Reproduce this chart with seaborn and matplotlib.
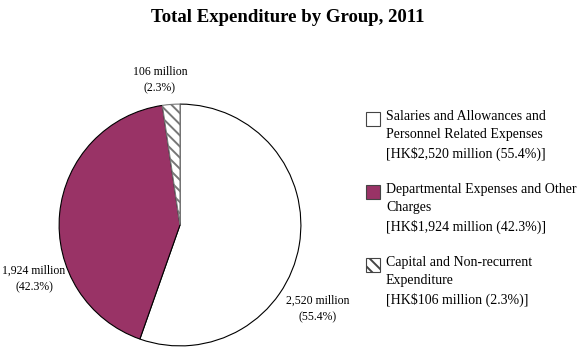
import matplotlib.pyplot as plt
import seaborn as sns
from matplotlib.patches import Rectangle

sns.set_theme(style="white")
plt.rcParams['font.family'] = ['Liberation Serif', 'DejaVu Serif']
plt.rcParams['text.color'] = 'black'
plt.rcParams['hatch.linewidth'] = 1.4

# Data
groups = ['Salaries and Allowances and\nPersonnel Related Expenses',
          'Departmental Expenses and Other\nCharges',
          'Capital and Non-recurrent\nExpenditure']
amounts = [2520, 1924, 106]
shares = [55.4, 42.3, 2.3]
colors = ['white', '#993366', 'white']
hatches = [None, None, '\\\\\\']

fig = plt.figure(figsize=(5.82, 3.53), dpi=100)
ax = fig.add_axes([58.5 / 582, 6.5 / 353, 243 / 582, 243 / 353])

wedges, _ = ax.pie(amounts, colors=colors, startangle=90, counterclock=False,
                   wedgeprops=dict(edgecolor='black', linewidth=0.8))
for w, h in zip(wedges, hatches):
    if h:
        w.set_hatch(h)
        w.set_edgecolor('#777777')
ax.set_aspect('equal')
ax.set_xlim(-1.005, 1.005)
ax.set_ylim(-1.005, 1.005)

# slice labels
label_pos = [(318 / 582, 1 - 309 / 353), (34 / 582, 1 - 279 / 353), (160 / 582, 1 - 80 / 353)]
for (x, y), amt, sh in zip(label_pos, amounts, shares):
    fig.text(x, y, f'{amt:,} million\n({sh}%)', ha='center', va='center',
             fontsize=8.5, linespacing=1.45)

fig.text(0.495, 1 - 17 / 353, 'Total Expenditure by Group, 2011', ha='center', va='center',
         fontsize=13.5, fontweight='bold')

# legend
tops = [110, 183, 256]
for top, g, amt, sh, c, h in zip(tops, groups, amounts, shares, colors, hatches):
    fig.patches.append(Rectangle((366 / 582, 1 - (top + 16) / 353), 14 / 582, 14 / 353,
                                 transform=fig.transFigure, facecolor=c, hatch=h,
                                 edgecolor='#444444', linewidth=0.8))
    fig.text(386 / 582, 1 - top / 353, f'{g}\n[HK${amt:,} million ({sh}%)]',
             ha='left', va='top', fontsize=10, linespacing=1.5)

fig.savefig('out.png', dpi=100)
